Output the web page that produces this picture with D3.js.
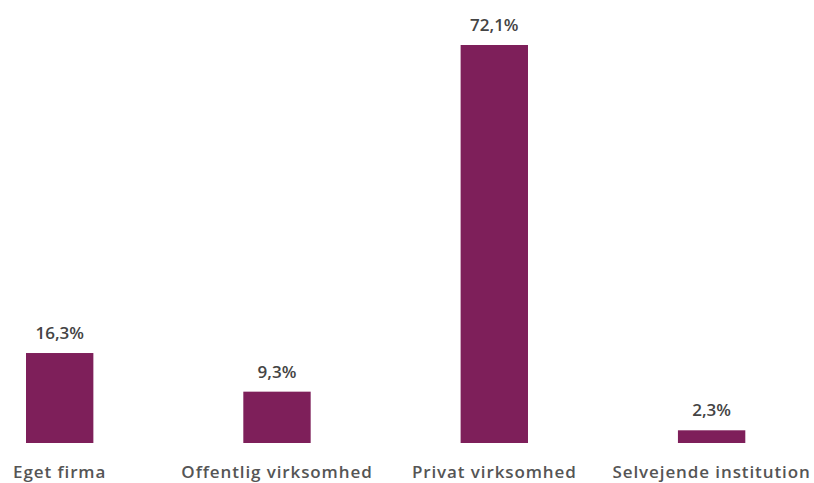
<!DOCTYPE html>
<html><head><meta charset="utf-8">
<script src="https://cdn.jsdelivr.net/npm/d3@7"></script>
<style>body{margin:0;background:#fff}svg{display:block}</style>
</head><body>
<svg id="c" width="814" height="483"></svg>
<script>
const categories = ["Eget firma", "Offentlig virksomhed", "Privat virksomhed", "Selvejende institution"];
const values = [16.3, 9.3, 72.1, 2.3];
const labels = ["16,3%", "9,3%", "72,1%", "2,3%"];

const svg = d3.select("#c");
const x = d3.scaleBand().domain(categories).range([26, 745.3]).paddingInner(0.69).paddingOuter(0);
const y = d3.scaleLinear().domain([0, 72.1]).range([443, 45]);

svg.selectAll("rect.bar").data(values).join("rect")
  .attr("class", "bar")
  .attr("x", (d, i) => x(categories[i]))
  .attr("width", x.bandwidth())
  .attr("y", d => y(d))
  .attr("height", d => y(0) - y(d))
  .attr("fill", "#7e1f5a");

svg.selectAll("text.val").data(values).join("text")
  .attr("class", "val")
  .attr("x", (d, i) => x(categories[i]) + x.bandwidth() / 2)
  .attr("y", d => y(d) - 14)
  .attr("text-anchor", "middle")
  .attr("font-family", "Open Sans")
  .attr("font-weight", 600)
  .attr("font-size", 17)
  .attr("fill", "#444")
  .text((d, i) => labels[i]);

svg.selectAll("text.cat").data(categories).join("text")
  .attr("class", "cat")
  .attr("x", d => x(d) + x.bandwidth() / 2)
  .attr("y", 478)
  .attr("text-anchor", "middle")
  .attr("font-family", "Open Sans")
  .attr("font-weight", 600)
  .attr("font-size", 17)
  .attr("fill", "#555")
  .attr("letter-spacing", 0.9)
  .text(d => d);
</script>
</body></html>
